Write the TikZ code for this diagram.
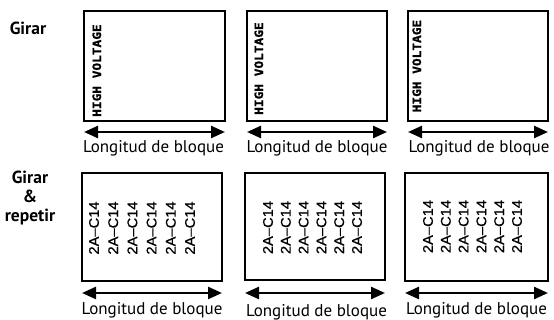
\documentclass[tikz,border=0pt]{standalone}
\usepackage{fontspec}
\setmainfont{PT Sans}
\newfontfamily\monob{DejaVu Sans Mono}[BoldFeatures={FakeBold=1.2}]
\newfontfamily\labsans{Liberation Sans}[FakeBold=0.6]
\usetikzlibrary{arrows.meta}
\newcommand{\hvtxt}{\scalebox{1}[0.9]{\monob\bfseries HIGH VOLTAGE}}
\newcommand{\cctxt}{\scalebox{1.05}[1]{2A–C14}}
\tikzset{
  box/.style={draw, line width=2.4pt, inner sep=0pt},
  dimarrow/.style={line width=2.4pt, {Triangle[length=14pt,width=12pt]}-{Triangle[length=14pt,width=12pt]}},
  lbl/.style={font=\fontsize{17}{19}\selectfont, anchor=base, inner sep=0pt},
  hvtext/.style={rotate=90, anchor=base west, inner sep=0pt, font=\fontsize{12.8}{15}\selectfont},
  cctext/.style={rotate=90, inner sep=0pt, align=center},
  rowlbl/.style={font=\bfseries\fontsize{17.5}{18.75}\selectfont, align=center, inner sep=0pt}
}
\begin{document}
\begin{tikzpicture}[x=1pt,y=-1pt]
\useasboundingbox (0,0) rectangle (554,320);
% row labels
\node[rowlbl, anchor=base] (r1) at (28,35) {Girar};
\node[rowlbl, anchor=north] (r2) at (30,171) {Girar\\\&\\repetir};
% top boxes
\node[box, minimum width=141pt, minimum height=110pt] (t1) at (154.5,66) {};
\node[box, minimum width=140pt, minimum height=110pt] (t2) at (317,66) {};
\node[box, minimum width=140pt, minimum height=110pt] (t3) at (478,66) {};
\node[hvtext] (h1) at (101,117) {\hvtxt};
\node[hvtext] (h2) at (263,115) {\hvtxt};
\node[hvtext] (h3) at (421,112.5) {\hvtxt};
% top arrows
\coordinate (ta1l) at (84,132); \coordinate (ta1r) at (225,132);
\coordinate (ta2l) at (247,132); \coordinate (ta2r) at (387,132);
\coordinate (ta3l) at (408,132); \coordinate (ta3r) at (548,132);
\draw[dimarrow] (ta1l) -- (ta1r);
\draw[dimarrow] (ta2l) -- (ta2r);
\draw[dimarrow] (ta3l) -- (ta3r);
\node[lbl] (tl1) at (153.5,153) {Longitud de bloque};
\node[lbl] (tl2) at (317,153) {Longitud de bloque};
\node[lbl] (tl3) at (479,153) {Longitud de bloque};
% bottom boxes
\node[box, minimum width=140pt, minimum height=108pt] (b1) at (152,227) {};
\node[box, minimum width=140pt, minimum height=107pt] (b2) at (315,226.5) {};
\node[box, minimum width=143pt, minimum height=108pt] (b3) at (476.5,227) {};
\node[cctext, font=\labsans\fontsize{14}{19.2}\selectfont] (c1) at (142,228) {\cctxt\\\cctxt\\\cctxt\\\cctxt\\\cctxt\\\cctxt};
\node[cctext, font=\labsans\fontsize{14}{17.8}\selectfont] (c2) at (312.5,227.5) {\cctxt\\\cctxt\\\cctxt\\\cctxt\\\cctxt\\\cctxt};
\node[cctext, font=\labsans\fontsize{14}{17.8}\selectfont] (c3) at (472.5,226.5) {\cctxt\\\cctxt\\\cctxt\\\cctxt\\\cctxt\\\cctxt};
% bottom arrows
\coordinate (ba1l) at (82,293); \coordinate (ba1r) at (222,293);
\coordinate (ba2l) at (245,293); \coordinate (ba2r) at (385,293);
\coordinate (ba3l) at (405,293); \coordinate (ba3r) at (548,293);
\draw[dimarrow] (ba1l) -- (ba1r);
\draw[dimarrow] (ba2l) -- (ba2r);
\draw[dimarrow] (ba3l) -- (ba3r);
\node[lbl] (bl1) at (152,315) {Longitud de bloque};
\node[lbl] (bl2) at (316.5,316.3) {Longitud de bloque};
\node[lbl] (bl3) at (476.5,315) {Longitud de bloque};
\end{tikzpicture}
\end{document}
